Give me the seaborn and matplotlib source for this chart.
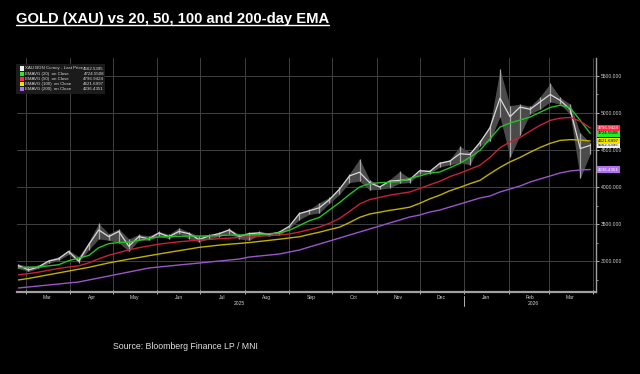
import pandas as pd
import matplotlib
matplotlib.use("Agg")
import matplotlib.pyplot as plt
import matplotlib.dates as mdates
import matplotlib.transforms as mtransforms
from matplotlib.ticker import MultipleLocator, NullFormatter, FuncFormatter
from matplotlib.patches import Rectangle
import seaborn as sns

# weekly readings (Mondays) off the Bloomberg chart
weeks = pd.date_range("2025-02-24", "2026-03-30", freq="W-MON")

price_close = [2940, 2880, 2920, 3000, 3030, 3130, 3000, 3220, 3420, 3330,
               3400, 3200, 3330, 3300, 3380, 3330, 3400, 3370, 3290, 3340,
               3370, 3420, 3330, 3370, 3380, 3360, 3390, 3470, 3640, 3680,
               3720, 3830, 3970, 4150, 4200, 4060, 4000, 4080, 4090, 4100,
               4220, 4210, 4320, 4350, 4450, 4440, 4600, 4800, 5200, 4950,
               5080, 5050, 5150, 5250, 5170, 5050, 4520, 4562.54]
price_high = [2960, 2930, 2945, 3020, 3060, 3150, 3060, 3260, 3510, 3370,
              3435, 3300, 3360, 3340, 3400, 3360, 3450, 3390, 3340, 3360,
              3390, 3440, 3360, 3390, 3400, 3380, 3400, 3480, 3660, 3700,
              3790, 3860, 4000, 4180, 4380, 4100, 4020, 4100, 4210, 4120,
              4240, 4230, 4340, 4370, 4550, 4470, 4630, 4830, 5590, 5100,
              5120, 5090, 5220, 5400, 5210, 5120, 4730, 4600]
price_low = [2900, 2860, 2900, 2970, 3010, 3090, 2980, 3150, 3300, 3280,
             3250, 3130, 3280, 3280, 3340, 3300, 3370, 3300, 3260, 3300,
             3330, 3370, 3300, 3280, 3350, 3340, 3350, 3440, 3560, 3630,
             3650, 3780, 3900, 4060, 4080, 3960, 3970, 3990, 4050, 4060,
             4180, 4180, 4270, 4300, 4330, 4300, 4560, 4620, 4950, 4400,
             4700, 4990, 5050, 5150, 5120, 4980, 4120, 4450]

ema20 = [2910, 2915, 2920, 2935, 2950, 3005, 3040, 3075, 3180, 3235,
         3250, 3255, 3280, 3305, 3325, 3330, 3335, 3338, 3338, 3340,
         3345, 3350, 3352, 3352, 3360, 3370, 3380, 3415, 3480, 3545,
         3590, 3690, 3790, 3900, 4000, 4045, 4058, 4064, 4075, 4118,
         4150, 4188, 4203, 4260, 4320, 4400, 4495, 4650, 4810, 4865,
         4905, 4945, 5010, 5075, 5105, 5070, 4900, 4724.55]
ema50 = [2815, 2830, 2850, 2875, 2900, 2920, 2935, 2975, 3030, 3078,
         3115, 3150, 3180, 3205, 3228, 3245, 3260, 3272, 3284, 3292,
         3302, 3310, 3318, 3325, 3335, 3345, 3352, 3365, 3392, 3425,
         3460, 3510, 3575, 3670, 3770, 3830, 3860, 3890, 3912, 3933,
         3980, 4030, 4078, 4140, 4188, 4240, 4295, 4400, 4530, 4610,
         4670, 4755, 4835, 4900, 4930, 4940, 4890, 4796.94]
ema100 = [2745, 2765, 2790, 2815, 2840, 2865, 2890, 2915, 2945, 2975,
          3000, 3025, 3048, 3072, 3095, 3118, 3140, 3162, 3185, 3200,
          3215, 3228, 3238, 3250, 3265, 3280, 3295, 3312, 3328, 3360,
          3390, 3425, 3458, 3520, 3590, 3635, 3660, 3685, 3705, 3728,
          3780, 3840, 3890, 3950, 3995, 4045, 4090, 4180, 4265, 4340,
          4400, 4470, 4535, 4590, 4630, 4640, 4635, 4621.70]
ema200 = [2636, 2650, 2663, 2677, 2690, 2704, 2717, 2744, 2771, 2798,
          2825, 2852, 2879, 2906, 2920, 2933, 2947, 2960, 2973, 2987,
          3000, 3014, 3027, 3054, 3068, 3081, 3095, 3122, 3149, 3190,
          3230, 3270, 3311, 3352, 3392, 3433, 3473, 3514, 3554, 3595,
          3622, 3662, 3689, 3730, 3770, 3811, 3852, 3879, 3933, 3973,
          4014, 4068, 4109, 4149, 4190, 4217, 4230, 4236.44]

legend_names = ["XAU BGN Curncy - Last Price", "EMAVG (20)  on Close",
                "EMAVG (50)  on Close", "EMAVG (100)  on Close",
                "EMAVG (200)  on Close"]
last_values = [4562.5395, 4724.5508, 4796.9424, 4621.6997, 4236.4351]
line_colors = ["#d8d8d8", "#22c322", "#c8203a", "#c2b000", "#9a55cc"]
tag_colors = ["#f0f0f0", "#22ee22", "#ff2a4a", "#f2e200", "#b070ee"]
tag_text = ["black", "black", "white", "black", "white"]

sns.set_theme(style="dark")
plt.rcParams["font.family"] = ["Liberation Sans", "DejaVu Sans"]

fig = plt.figure(figsize=(6.4, 3.74), dpi=100, facecolor="black")
ax = fig.add_axes([17 / 640, 82 / 374, 579 / 640, 234 / 374])
ax.set_facecolor("black")

df = pd.DataFrame({"date": weeks, "close": price_close, "ema20": ema20,
                   "ema50": ema50, "ema100": ema100, "ema200": ema200})

# price: weekly high-low range + close
ax.fill_between(weeks, price_low, price_high, color="#4a4a4a", lw=0)
ax.vlines(weeks, price_low, price_high, color="#a8a8a8", lw=0.9)
sns.lineplot(data=df, x="date", y="close", ax=ax, color=line_colors[0], lw=0.9)
for col, c in zip(["ema20", "ema50", "ema100", "ema200"], line_colors[1:]):
    sns.lineplot(data=df, x="date", y=col, ax=ax, color=c, lw=1.0)

ax.set_xlim(pd.Timestamp("2025-02-23"), pd.Timestamp("2026-04-03"))
ax.set_ylim(2582, 5743)
ax.set_xlabel("")
ax.set_ylabel("")

# axes styling
for s in ["left", "top"]:
    ax.spines[s].set_visible(False)
ax.spines["bottom"].set_color("#a0a0a0")
ax.spines["bottom"].set_linewidth(1.6)
ax.spines["right"].set_color("#a0a0a0")
ax.spines["right"].set_linewidth(1.0)

ax.yaxis.tick_right()
ax.yaxis.set_major_locator(MultipleLocator(500))
ax.yaxis.set_minor_locator(MultipleLocator(250))
ax.yaxis.set_major_formatter(FuncFormatter(lambda v, p: f"{v:.3f}"))
ax.tick_params(axis="y", which="major", labelsize=3.6, labelcolor="#d0d0d0",
               color="#d0d0d0", length=2, width=0.6, pad=1.5, right=True, left=False)
ax.tick_params(axis="y", which="minor", color="#d0d0d0", length=1.2, width=0.5,
               right=True, left=False)

ax.xaxis.set_major_locator(mdates.MonthLocator())
ax.xaxis.set_major_formatter(NullFormatter())
ax.xaxis.set_minor_locator(mdates.MonthLocator(bymonthday=16))
ax.xaxis.set_minor_formatter(mdates.DateFormatter("%b"))
ax.tick_params(axis="x", which="major", color="#d0d0d0", length=2.5, width=0.6,
               direction="inout", bottom=True)
ax.tick_params(axis="x", which="minor", length=0, labelsize=3.6,
               labelcolor="#d0d0d0", pad=2.0)

ax.grid(True, which="major", color="#404040", lw=0.7)
ax.grid(False, which="minor")

blend = mtransforms.blended_transform_factory(ax.transData, ax.transAxes)
ax.text(pd.Timestamp("2025-07-28"), -0.048, "2025", transform=blend, ha="center",
        va="center", fontsize=3.6, color="#d0d0d0")
ax.text(pd.Timestamp("2026-02-18"), -0.048, "2026", transform=blend, ha="center",
        va="center", fontsize=3.6, color="#d0d0d0")
ax.plot([pd.Timestamp("2026-01-01")] * 2, [-0.015, -0.06], transform=blend,
        color="#d0d0d0", lw=0.6, clip_on=False)

# value tags on the right axis
yblend = mtransforms.blended_transform_factory(ax.transAxes, ax.transData)
for v, c, tc in zip(last_values, tag_colors, tag_text):
    ax.text(1.004, v, f"{v:.4f}", transform=yblend, ha="left", va="center",
            fontsize=3.2, color=tc, clip_on=False,
            bbox=dict(boxstyle="square,pad=0.25", fc=c, ec="none"))

# legend box (top-left)
fig.patches.append(Rectangle((16 / 640, 1 - 94 / 374), 89 / 640, 30 / 374,
                             transform=fig.transFigure, fc="#1b1b1b", ec="none",
                             zorder=5))
for i, (name, v, c) in enumerate(zip(legend_names, last_values, line_colors)):
    ypx = 68.5 + i * 5.2
    fig.patches.append(Rectangle((19.5 / 640, 1 - (ypx + 2) / 374), 4 / 640, 4 / 374,
                                 transform=fig.transFigure, fc=tag_colors[i],
                                 ec="none", zorder=6))
    fig.text(25 / 640, 1 - ypx / 374, name, fontsize=3.2, color="#d8d8d8",
             va="center", ha="left", zorder=7)
    fig.text(104 / 640, 1 - ypx / 374, f"{v:.4f}", fontsize=3.2, color="#d8d8d8",
             va="center", ha="right", zorder=7)

# title (underlined) and source
t = fig.text(16 / 640, 1 - 23 / 374, "GOLD (XAU) vs 20, 50, 100 and 200-day EMA",
             fontsize=10.6, fontweight="bold", color="white", ha="left",
             va="baseline")
fig.canvas.draw()
bb = t.get_window_extent()
fig.add_artist(plt.Line2D([bb.x0 / 640, bb.x1 / 640], [1 - 25 / 374, 1 - 25 / 374],
                          transform=fig.transFigure, color="white", lw=1.0))
fig.text(113 / 640, 1 - 349 / 374, "Source: Bloomberg Finance LP / MNI",
         fontsize=6.3, color="#e0e0e0", ha="left", va="baseline")

fig.savefig("out.png", dpi=100, facecolor="black")
